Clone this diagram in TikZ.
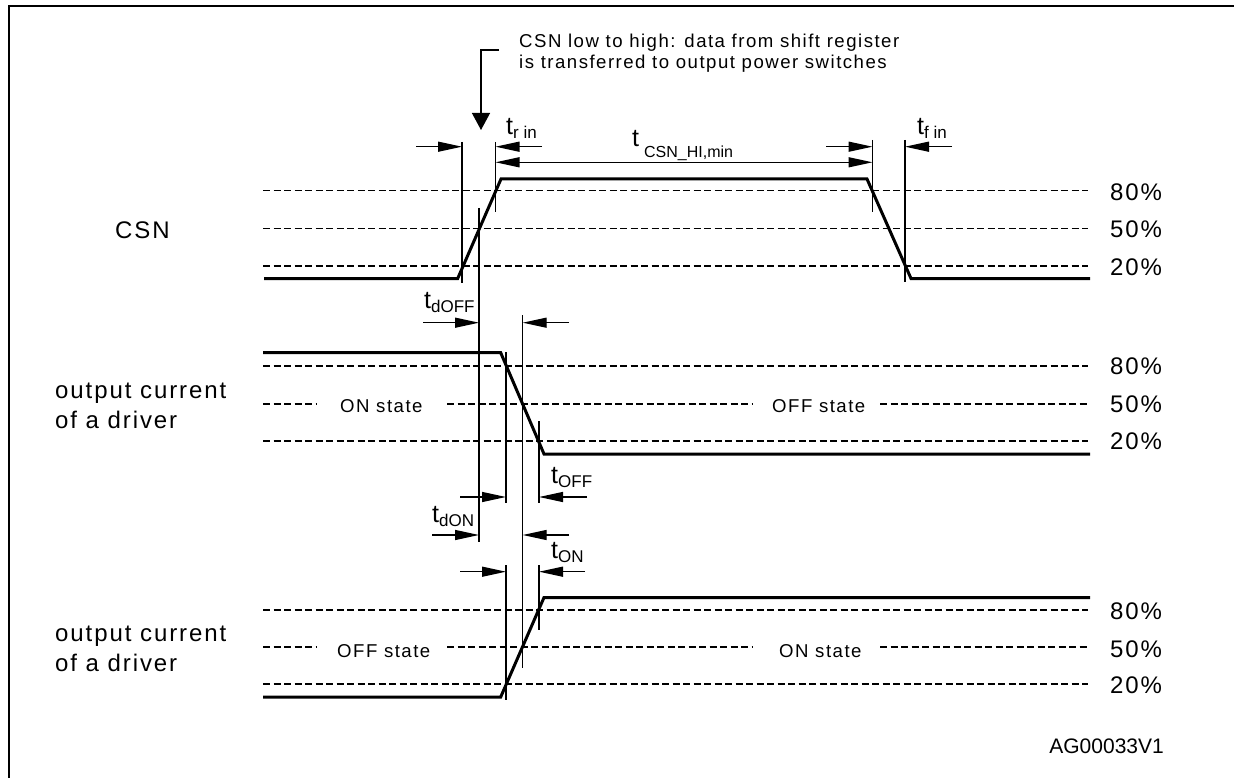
\documentclass[tikz,border=0pt]{standalone}
\usepackage{fontspec}
\setmainfont{Liberation Sans}
\newfontfamily\trkfont[LetterSpace=8]{Liberation Sans}
\usetikzlibrary{arrows.meta}
\newcommand\tsb[1]{t\raisebox{-4pt}{\fontsize{17}{17}\selectfont #1}}
\begin{document}
\begin{tikzpicture}[x=1pt,y=-1pt,
  sig/.style={line width=3pt, line join=miter},
  lvl/.style={line width=1.4pt, dash pattern=on 7pt off 3.5pt},
  refl/.style={line width=1.3pt},
  dimarrow/.style={line width=1.3pt, -{Triangle[length=24pt,width=10pt]}},
  biglab/.style={font=\trkfont\fontsize{24}{29}\selectfont, inner sep=0pt, anchor=base west},
  statelab/.style={font=\trkfont\fontsize{18.6}{21}\selectfont, inner sep=0pt, anchor=base west},
  tlab/.style={font=\fontsize{25}{25}\selectfont, inner sep=0pt, anchor=base west},
]
\useasboundingbox (0,0) rectangle (1234,778);

% frame (only top and left visible)
\coordinate (fbl) at (9,778);
\coordinate (ftl) at (9,6);
\coordinate (ftr) at (1234,6);
\draw[line width=2.5pt, line join=miter] (fbl) -- (ftl) -- (ftr);

% ---------- annotation ----------
\coordinate (hook) at (499,50);
\coordinate (hookc) at (481,50);
\coordinate (hooktip) at (481,130);
\draw[refl, -{Triangle[length=17pt,width=18pt]}] (hook) -- (hookc) -- (hooktip);
\node[statelab] (note1) at (519,47.5) {CSN low to high: data from shift register};
\node[statelab] (note2) at (519,68.5) {is transferred to output power switches};

% ---------- level lines ----------
\foreach \y/\n in {190.7/c80,228.7/c50,266/c20,366/a80,441/a20,610/b80,684/b20}{
  \coordinate (\n L) at (263,\y);
  \coordinate (\n R) at (1088,\y);
  \draw[lvl] (\n L) -- (\n R);
}
% 50% lines with state labels
\node[statelab] (on1) at (340,412) {ON state};
\node[statelab] (off1) at (772,412) {OFF state};
\node[statelab] (off2) at (337,657) {OFF state};
\node[statelab] (on2) at (779,657) {ON state};
\foreach \y/\n in {404/a50,647/b50}{
  \coordinate (\n 0) at (263,\y);
  \coordinate (\n 1) at (317,\y);
  \coordinate (\n 2) at (447,\y);
  \coordinate (\n 3) at (753,\y);
  \coordinate (\n 4) at (880,\y);
  \coordinate (\n 5) at (1088,\y);
  \draw[lvl] (\n 0) -- (\n 1);
  \draw[lvl] (\n 2) -- (\n 3);
  \draw[lvl] (\n 4) -- (\n 5);
}

% ---------- signals ----------
\coordinate (c0) at (264,278.5);
\coordinate (c1) at (457.7,278.5);
\coordinate (c2) at (501,179);
\coordinate (c3) at (867,179);
\coordinate (c4) at (911,278.5);
\coordinate (c5) at (1090,278.5);
\draw[sig] (c0) -- (c1) -- (c2) -- (c3) -- (c4) -- (c5);

\coordinate (a0) at (263,352.7);
\coordinate (a1) at (500.7,352.7);
\coordinate (a2) at (544,454);
\coordinate (a3) at (1090,454);
\draw[sig] (a0) -- (a1) -- (a2) -- (a3);

\coordinate (b0) at (263,697);
\coordinate (b1) at (500.7,697);
\coordinate (b2) at (544,597.5);
\coordinate (b3) at (1090,597.5);
\draw[sig] (b0) -- (b1) -- (b2) -- (b3);

% ---------- reference verticals ----------
\foreach \x/\ya/\yb/\n in {462/142/283/v1, 495.5/142/212/v2, 479/208/542/v3,
  872.5/140/212/v4, 905/140/282/v5, 506/352/503/v6, 522.7/315/668/v7,
  539/421/503/v8, 506/565/700/v9, 539/565/630/v10}{
  \coordinate (\n t) at (\x,\ya);
  \coordinate (\n b) at (\x,\yb);
  \draw[refl] (\n t) -- (\n b);
}

% ---------- dimension arrows ----------
\foreach \xa/\xb/\y/\n in {416/462/146.7/d1, 542/495.5/146.7/d2, 826/872.5/146.7/d3,
  952/905/146.7/d4, 423/479/322.7/d5, 569/522.7/322.7/d6, 460/506/497/d7,
  587/539/497/d8, 432/479/535/d9, 569/522.7/535/d10, 460/506/571.7/d11,
  585/539/571.7/d12}{
  \coordinate (\n s) at (\xa,\y);
  \coordinate (\n e) at (\xb,\y);
  \draw[dimarrow] (\n s) -- (\n e);
}
\coordinate (hiA) at (495.5,162.3);
\coordinate (hiB) at (872.5,162.3);
\draw[line width=1.3pt, {Triangle[length=24pt,width=10pt]}-{Triangle[length=24pt,width=10pt]}] (hiA) -- (hiB);

% ---------- timing labels ----------
\node[tlab] (trin) at (506,135) {\tsb{r in}};
\node[tlab] (tfin) at (917,135) {\tsb{f in}};
\node[tlab] (tcsn) at (632,147) {t\hspace{5pt}\raisebox{-11pt}{\fontsize{16}{16}\selectfont CSN\_HI,min}};
\node[tlab] (tdoff) at (424,308) {\tsb{dOFF}};
\node[tlab] (toff) at (551,483) {\tsb{OFF}};
\node[tlab] (tdon) at (432,522) {\tsb{dON}};
\node[tlab] (ton) at (551,558) {\tsb{ON}};

% ---------- signal names ----------
\node[biglab] (csn) at (115,239) {CSN};
\node[biglab] (o1a) at (55,398) {output current};
\node[biglab] (o1b) at (55,428) {of a driver};
\node[biglab] (o2a) at (55,641) {output current};
\node[biglab] (o2b) at (55,671) {of a driver};

% ---------- percentages ----------
\foreach \y/\t/\n in {200.6/80/p1, 237.6/50/p2, 275.3/20/p3, 374.6/80/p4, 412.6/50/p5,
  449.6/20/p6, 619/80/p7, 657.6/50/p8, 693.6/20/p9}{
  \node[biglab] (\n) at (1110,\y) {\t\%};
}

\node[font=\fontsize{21}{21}\selectfont, inner sep=0pt, anchor=base east] (ref) at (1164,753) {AG00033V1};
\end{tikzpicture}
\end{document}
